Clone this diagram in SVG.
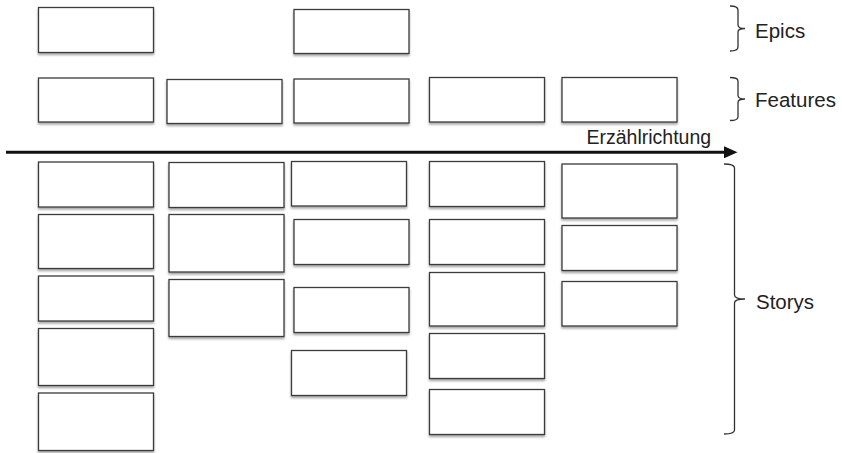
<svg xmlns="http://www.w3.org/2000/svg" width="842" height="453" viewBox="0 0 842 453">
<style>
.card{fill:#fff;stroke:#3a3a3a;stroke-width:1.3;filter:url(#sh)}
.lbl{font-family:"Liberation Sans",Arial,sans-serif;font-size:20.5px;fill:#222}
.brace{fill:none;stroke:#333;stroke-width:1.3}
</style>
<defs>
<filter id="sh" x="-10%" y="-10%" width="120%" height="130%">
<feDropShadow dx="0" dy="2" stdDeviation="1.2" flood-color="#000" flood-opacity="0.35"/>
</filter>
<marker id="ah" markerWidth="4.5" markerHeight="4" refX="0" refY="2" orient="auto" markerUnits="strokeWidth">
<path d="M0,0 L4.5,2 L0,4 Z" fill="#111"/>
</marker>
</defs>
<g id="epics">
<rect id="epic1" class="card" x="38.5" y="7.5" width="115" height="45"/>
<rect id="epic2" class="card" x="294" y="9.5" width="115" height="44"/>
</g>
<g id="features">
<rect id="feature1" class="card" x="38.5" y="78" width="115" height="44"/>
<rect id="feature2" class="card" x="167" y="79.5" width="115" height="44"/>
<rect id="feature3" class="card" x="294" y="79" width="115" height="44"/>
<rect id="feature4" class="card" x="429.5" y="77.5" width="115" height="44.5"/>
<rect id="feature5" class="card" x="562" y="77.5" width="115" height="44.5"/>
</g>
<g id="storys">
<rect id="s1_1" class="card" x="38.5" y="162" width="115" height="45"/>
<rect id="s1_2" class="card" x="38.5" y="214.5" width="115" height="54"/>
<rect id="s1_3" class="card" x="38.5" y="276" width="115" height="45"/>
<rect id="s1_4" class="card" x="38.5" y="328.5" width="115" height="57"/>
<rect id="s1_5" class="card" x="38.5" y="393" width="115" height="57.5"/>
<rect id="s2_1" class="card" x="169" y="162.5" width="115" height="45"/>
<rect id="s2_2" class="card" x="169" y="214.5" width="115" height="57.5"/>
<rect id="s2_3" class="card" x="169" y="279.5" width="115" height="57"/>
<rect id="s3_1" class="card" x="291.5" y="161.5" width="115" height="44.5"/>
<rect id="s3_2" class="card" x="294" y="219.5" width="115" height="45"/>
<rect id="s3_3" class="card" x="294" y="287.5" width="115" height="45"/>
<rect id="s3_4" class="card" x="291.5" y="350.5" width="115" height="45"/>
<rect id="s4_1" class="card" x="429.5" y="161.5" width="115" height="45"/>
<rect id="s4_2" class="card" x="429.5" y="219.5" width="115" height="45"/>
<rect id="s4_3" class="card" x="429.5" y="272.5" width="115" height="53.5"/>
<rect id="s4_4" class="card" x="429.5" y="333.5" width="115" height="45"/>
<rect id="s4_5" class="card" x="429.5" y="389.5" width="115" height="45"/>
<rect id="s5_1" class="card" x="562" y="164" width="115" height="54"/>
<rect id="s5_2" class="card" x="562" y="225.5" width="115" height="45"/>
<rect id="s5_3" class="card" x="562" y="281.5" width="115" height="44.5"/>
</g>
<g id="connectors">
<line x1="6" y1="152.3" x2="724" y2="152.3" stroke="#111" stroke-width="3" marker-end="url(#ah)"/>
</g>
<g id="braces">
<path class="brace" d="M730,6 Q738,6 738,10 L738,25 Q738,28.5 745,28.5 Q738,28.5 738,32 L738,47 Q738,51 730,51"/>
<path class="brace" d="M730,77.5 Q738,77.5 738,81 L738,95.5 Q738,99 745,99 Q738,99 738,102.5 L738,117 Q738,120.5 730,120.5"/>
<path class="brace" d="M724,164 Q734.5,164 734.5,168 L734.5,295 Q734.5,299 745,299 Q734.5,299 734.5,303 L734.5,430 Q734.5,434 724,434"/>
</g>
<g id="labels">
<text class="lbl" x="755" y="37.5">Epics</text>
<text class="lbl" x="755" y="107">Features</text>
<text class="lbl" x="756" y="309">Storys</text>
<text class="lbl" x="586.5" y="144" style="font-size:19.5px">Erzählrichtung</text>
</g>
</svg>
